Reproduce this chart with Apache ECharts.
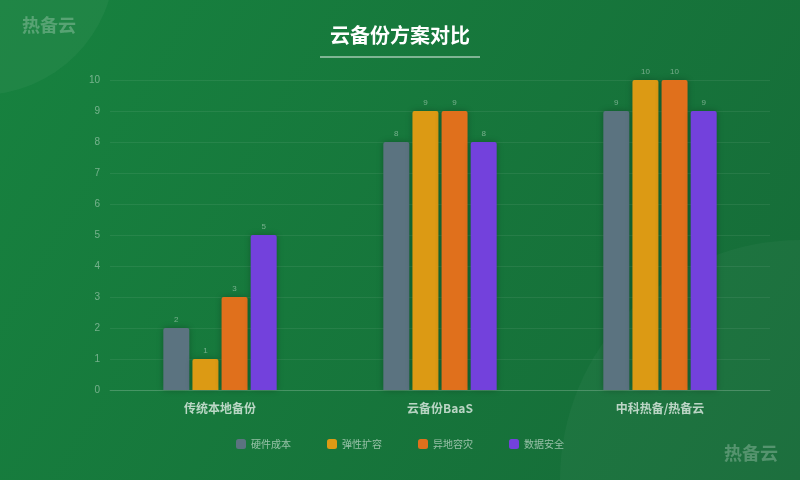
<!DOCTYPE html>
<html>
<head>
<meta charset="utf-8">
<script src="https://cdn.jsdelivr.net/npm/echarts@6/dist/echarts.min.js"></script>
<style>html,body{margin:0;padding:0;}#main{width:800px;height:480px;}</style>
</head>
<body>
<div id="main"></div>
<script>
var categories = ["传统本地备份", "云备份BaaS", "中科热备/热备云"];
var seriesNames = ["硬件成本", "弹性扩容", "异地容灾", "数据安全"];
var hardware = [2, 8, 9];
var elastic = [1, 9, 10];
var disaster = [3, 9, 10];
var security = [5, 8, 9];
var colors = ["#5b7380", "#dc9a14", "#e0701c", "#7341dc"];

var chart = echarts.init(document.getElementById("main"));
var values = [hardware, elastic, disaster, security];
var series = [];
for (var i = 0; i < seriesNames.length; i++) {
    series.push({
        name: seriesNames[i],
        type: "bar",
        data: values[i],
        barWidth: 26,
        barGap: "12%",
        itemStyle: {
            color: colors[i],
            borderRadius: [2, 2, 0, 0],
            shadowBlur: 6,
            shadowColor: "rgba(0,0,0,0.25)"
        },
        label: {
            show: true,
            position: "top",
            color: "rgba(255,255,255,0.4)",
            fontSize: 8,
            distance: 4
        }
    });
}
chart.setOption({
    backgroundColor: {
        type: "linear", x: 0, y: 0, x2: 1, y2: 1,
        colorStops: [{offset: 0, color: "#17823f"}, {offset: 1, color: "#166b38"}]
    },
    graphic: [
        {type: "circle", shape: {cx: -20, cy: -40, r: 135}, style: {fill: "rgba(255,255,255,0.04)"}, silent: true},
        {type: "circle", shape: {cx: 800, cy: 480, r: 240}, style: {fill: "rgba(255,255,255,0.03)"}, silent: true},
        {type: "text", left: 22, top: 16, style: {text: "热备云", fill: "rgba(255,255,255,0.25)", font: "bold 18px 'Noto Sans CJK SC'"}},
        {type: "text", right: 22, top: 444, style: {text: "热备云", fill: "rgba(255,255,255,0.25)", font: "bold 18px 'Noto Sans CJK SC'"}},
        {type: "rect", shape: {x: 320, y: 56, width: 160, height: 2}, style: {fill: "rgba(255,255,255,0.45)"}}
    ],
    title: {
        text: "云备份方案对比",
        left: "center",
        top: 20,
        textStyle: {color: "#ffffff", fontSize: 20, fontWeight: "bold", fontFamily: "Noto Sans CJK SC"}
    },
    legend: {
        bottom: 26,
        itemWidth: 10,
        itemHeight: 10,
        itemGap: 36,
        textStyle: {color: "rgba(255,255,255,0.55)", fontSize: 10, fontFamily: "Noto Sans CJK SC"},
        data: seriesNames
    },
    grid: {left: 110, right: 30, top: 80, bottom: 90},
    xAxis: {
        type: "category",
        data: categories,
        axisLine: {lineStyle: {color: "rgba(255,255,255,0.15)"}},
        axisTick: {show: false},
        axisLabel: {color: "rgba(255,255,255,0.7)", fontSize: 12, fontWeight: "bold", margin: 12, fontFamily: "Noto Sans CJK SC"}
    },
    yAxis: {
        type: "value",
        min: 0,
        max: 10,
        interval: 1,
        axisLine: {show: false},
        axisTick: {show: false},
        axisLabel: {color: "rgba(255,255,255,0.4)", fontSize: 10, margin: 10},
        splitLine: {lineStyle: {color: "rgba(255,255,255,0.07)"}}
    },
    series: series
});
</script>
</body>
</html>
